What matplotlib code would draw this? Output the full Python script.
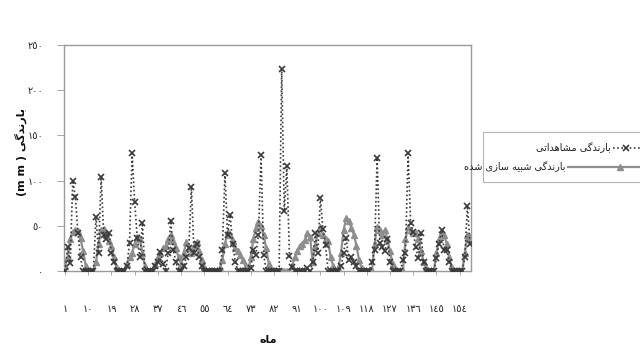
import matplotlib
matplotlib.use("Agg")
import matplotlib.pyplot as plt
from matplotlib.lines import Line2D
from matplotlib.patches import Rectangle

# ---------------- data ----------------
months = list(range(1, 159))

observed = [
    0, 27, 9, 100, 82, 42, 15, 0, 0, 0, 0, 0,
    60, 20, 104, 40, 35, 42, 20, 10, 0, 0, 0, 0,
    5, 31, 130, 76, 37, 15, 53, 0, 0, 0, 0, 5,
    10, 21, 8, 0, 20, 55, 23, 10, 0, 0, 5, 15,
    25, 93, 20, 30, 15, 5, 0, 0, 0, 0, 0, 0,
    0, 23, 108, 40, 62, 30, 10, 0, 0, 0, 0, 0,
    3, 23, 18, 40, 128, 18, 0, 0, 0, 0, 0, 0,
    223, 66, 116, 17, 4, 0, 0, 0, 0, 0, 3, 0,
    10, 42, 20, 81, 46, 29, 0, 0, 0, 0, 0, 5,
    20, 37, 12, 15, 10, 5, 0, 0, 0, 0, 0, 10,
    23, 125, 31, 27, 22, 35, 10, 0, 0, 0, 0, 12,
    20, 130, 53, 43, 26, 14, 42, 10, 0, 0, 0, 0,
    14, 30, 45, 23, 23, 10, 0, 0, 0, 0, 0, 15,
    72, 30,
]

simulated = [
    5, 15, 35, 43, 45, 44, 36, 22, 6, 0, 0, 0,
    10, 30, 45, 47, 40, 33, 28, 15, 3, 0, 0, 0,
    8, 15, 20, 30, 38, 35, 20, 5, 0, 0, 0, 8,
    15, 20, 25, 28, 35, 40, 33, 25, 15, 8, 20, 32,
    25, 20, 28, 32, 22, 12, 4, 0, 0, 0, 0, 0,
    3, 12, 30, 43, 40, 33, 25, 22, 18, 12, 5, 0,
    15, 35, 48, 54, 50, 40, 25, 8, 0, 0, 0, 0,
    0, 0, 0, 0, 5, 15, 22, 28, 30, 34, 42, 38,
    10, 28, 42, 49, 40, 35, 33, 15, 5, 0, 3, 20,
    45, 59, 55, 48, 40, 28, 12, 3, 0, 0, 0, 0,
    30, 49, 45, 40, 45, 35, 22, 8, 0, 0, 0, 0,
    35, 49, 45, 42, 42, 35, 22, 10, 3, 0, 0, 0,
    20, 35, 43, 40, 30, 15, 3, 0, 0, 0, 0, 20,
    40, 38,
]

x_tick_values = [1, 10, 19, 28, 37, 46, 55, 64, 73, 82, 91, 100, 109, 118, 127, 136, 145, 154]
y_tick_values = [0, 50, 100, 150, 200, 250]

label_observed = "بارندگی مشاهداتی"
label_simulated = "بارندگی شبیه سازی شده"
x_title = "ماه"
y_title_word = "بارندگی"
y_title_unit = "(m m )"

# ---------------- Arabic shaping helpers ----------------
FORMS = {
    'ا': ('\uFE8D', '\uFE8E', None, None),
    'ب': ('\uFE8F', '\uFE90', '\uFE91', '\uFE92'),
    'ت': ('\uFE95', '\uFE96', '\uFE97', '\uFE98'),
    'د': ('\uFEA9', '\uFEAA', None, None),
    'ر': ('\uFEAD', '\uFEAE', None, None),
    'ز': ('\uFEAF', '\uFEB0', None, None),
    'س': ('\uFEB1', '\uFEB2', '\uFEB3', '\uFEB4'),
    'ش': ('\uFEB5', '\uFEB6', '\uFEB7', '\uFEB8'),
    'م': ('\uFEE1', '\uFEE2', '\uFEE3', '\uFEE4'),
    'ن': ('\uFEE5', '\uFEE6', '\uFEE7', '\uFEE8'),
    'ه': ('\uFEE9', '\uFEEA', '\uFEEB', '\uFEEC'),
    'ی': ('\uFBFC', '\uFBFD', '\uFBFE', '\uFBFF'),
    'گ': ('\uFB92', '\uFB93', '\uFB94', '\uFB95'),
}


def shape(s):
    out = []
    for i, c in enumerate(s):
        if c not in FORMS:
            out.append(c)
            continue
        iso, fin, ini, med = FORMS[c]
        prev = s[i - 1] if i > 0 else None
        nxt = s[i + 1] if i + 1 < len(s) else None
        jp = prev in FORMS and FORMS[prev][2] is not None
        jn = nxt in FORMS and ini is not None
        if jp and jn:
            out.append(med)
        elif jp:
            out.append(fin)
        elif jn:
            out.append(ini)
        else:
            out.append(iso)
    return ''.join(reversed(out))


AR_DIGITS = str.maketrans('0123456789', '٠١٢٣٤٥٦٧٨٩')


def ar_num(v):
    return str(v).translate(AR_DIGITS)


# ---------------- figure ----------------
plt.rcParams['font.family'] = ['DejaVu Sans']
W, H = 640, 349
fig = plt.figure(figsize=(W / 100, H / 100), dpi=100)
ax = fig.add_axes([64 / W, 1 - 271 / H, (471 - 64) / W, (271 - 45) / H])

obs_color = '#3a3a3a'
sim_color = '#8e8e8e'
frame_color = '#9a9a9a'

ax.plot(months, simulated, color=sim_color, lw=1.6, marker='^', ms=5,
        mfc=sim_color, mec=sim_color, zorder=2)
ax.plot(months, observed, color=obs_color, lw=1.2, linestyle=(0, (1, 1.5)),
        marker='x', ms=4.5, mew=1.2, mec=obs_color, zorder=3)

ax.set_xlim(0.6, 158.4)
ax.set_ylim(0, 250)

ax.set_xticks(x_tick_values)
ax.set_xticklabels([ar_num(v) for v in x_tick_values], fontsize=7, color='#222222')
ax.set_yticks(y_tick_values)
ax.set_yticklabels([ar_num(v) for v in y_tick_values], fontsize=7, color='#222222')
ax.tick_params(axis='x', direction='out', length=3, width=0.6, color=frame_color, pad=21)
ax.tick_params(axis='y', direction='out', length=5, width=0.6, color=frame_color, pad=10)

for sp in ax.spines.values():
    sp.set_color(frame_color)
    sp.set_linewidth(1.0)

# axis titles
fig.text(268 / W, 1 - 340 / H, shape(x_title), ha='center', va='center',
         fontsize=8, fontweight='bold', color='#111111')
fig.text(21 / W, 1 - 152 / H, y_title_unit + ' ' + shape(y_title_word), ha='center', va='center',
         rotation=90, fontsize=8, fontweight='bold', color='#111111')


# legend (drawn manually, right-to-left layout)
def fx(px):
    return px / W


def fy(py):
    return 1 - py / H


fig.add_artist(Rectangle((fx(483), fy(182)), fx(641) - fx(483), fy(132) - fy(182),
                         transform=fig.transFigure, fill=False, edgecolor='#b5b5b5', lw=0.8))

fig.text(fx(611), fy(148), shape(label_observed), ha='right', va='center', fontsize=7, color='#222222')
fig.add_artist(Line2D([fx(613), fx(640)], [fy(148), fy(148)], transform=fig.transFigure,
                      color=obs_color, lw=1.2, linestyle=(0, (1, 1.5))))
fig.add_artist(Line2D([fx(626)], [fy(148)], transform=fig.transFigure, color=obs_color,
                      marker='x', ms=4.5, mew=1.2, linestyle='none'))

fig.text(fx(566), fy(167), shape(label_simulated), ha='right', va='center', fontsize=7, color='#222222')
fig.add_artist(Line2D([fx(568), fx(640)], [fy(167), fy(167)], transform=fig.transFigure,
                      color=sim_color, lw=1.6))
fig.add_artist(Line2D([fx(620)], [fy(167)], transform=fig.transFigure, color=sim_color,
                      marker='^', ms=5, linestyle='none'))

fig.savefig('out.png', dpi=100)
